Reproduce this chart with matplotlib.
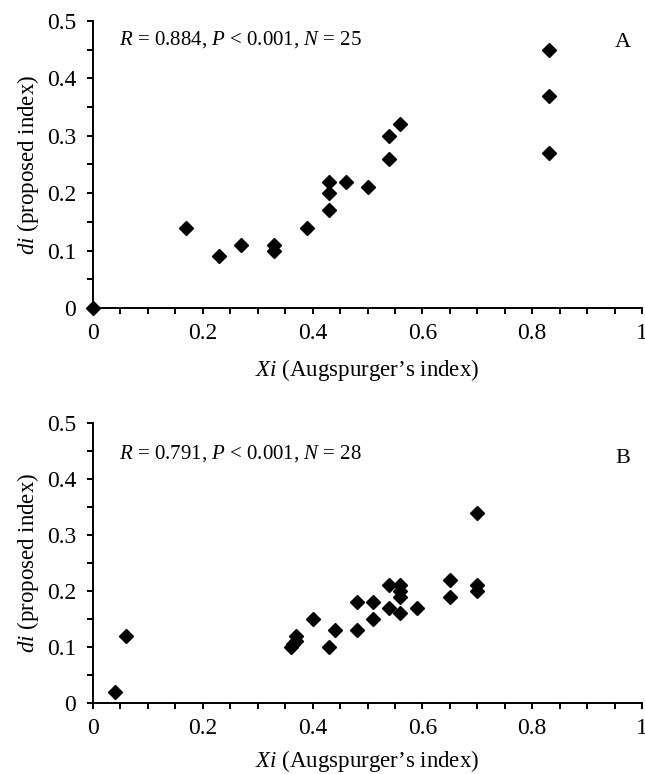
import matplotlib
matplotlib.use("Agg")
import matplotlib.pyplot as plt
from matplotlib.ticker import MultipleLocator

plt.rcParams["font.family"] = ["Liberation Serif", "DejaVu Serif"]
plt.rcParams["mathtext.fontset"] = "custom"
plt.rcParams["mathtext.rm"] = "Liberation Serif"
plt.rcParams["mathtext.it"] = "Liberation Serif:italic"

# panel A: Xi vs di
XI_A = [0.0, 0.17, 0.23, 0.27, 0.33, 0.33, 0.39, 0.43, 0.43, 0.43, 0.46, 0.50,
        0.54, 0.54, 0.56, 0.83, 0.83, 0.83]
DI_A = [0.0, 0.14, 0.09, 0.11, 0.11, 0.10, 0.14, 0.22, 0.20, 0.17, 0.22, 0.21,
        0.30, 0.26, 0.32, 0.45, 0.37, 0.27]
STATS_A = r"$R$ = 0.884, $P$ < 0.001, $N$ = 25"

# panel B
XI_B = [0.04, 0.06, 0.36, 0.365, 0.37, 0.37, 0.40, 0.43, 0.44, 0.48, 0.48, 0.51,
        0.51, 0.54, 0.54, 0.56, 0.56, 0.56, 0.56, 0.59, 0.65, 0.65, 0.70, 0.70,
        0.70]
DI_B = [0.02, 0.12, 0.10, 0.105, 0.11, 0.12, 0.15, 0.10, 0.13, 0.18, 0.13, 0.18,
        0.15, 0.21, 0.17, 0.21, 0.20, 0.19, 0.16, 0.17, 0.22, 0.19, 0.34, 0.21,
        0.20]
STATS_B = r"$R$ = 0.791, $P$ < 0.001, $N$ = 28"

TICKS_X = [0, 0.2, 0.4, 0.6, 0.8, 1.0]
TICKS_Y = [0, 0.1, 0.2, 0.3, 0.4, 0.5]
LABELS_X = ["0", "0.2", "0.4", "0.6", "0.8", "1"]
LABELS_Y = ["0", "0.1", "0.2", "0.3", "0.4", "0.5"]

fig = plt.figure(figsize=(6.45, 7.74), dpi=100)
ax_a = fig.add_axes([93 / 645, 1 - 308 / 774, 549 / 645, 287 / 774])
ax_b = fig.add_axes([93 / 645, 1 - 703 / 774, 549 / 645, 280 / 774])

panels = [
    (ax_a, XI_A, DI_A, STATS_A, "A", (0.047, 0.467), (0.965, 0.462), 9),
    (ax_b, XI_B, DI_B, STATS_B, "B", (0.047, 0.445), (0.965, 0.437), 6),
]

for ax, xs, ys, stats, tag, stats_pos, tag_pos, xpad in panels:
    ax.plot(xs, ys, "D", color="black", markersize=7.5, clip_on=False, zorder=3)
    ax.set_xlim(0, 1)
    ax.set_ylim(0, 0.5)
    ax.set_xticks(TICKS_X)
    ax.set_yticks(TICKS_Y)
    ax.set_xticklabels(LABELS_X)
    ax.set_yticklabels(LABELS_Y)
    ax.xaxis.set_minor_locator(MultipleLocator(0.05))
    ax.yaxis.set_minor_locator(MultipleLocator(0.05))
    for side in ("top", "right"):
        ax.spines[side].set_visible(False)
    for side in ("left", "bottom"):
        ax.spines[side].set_linewidth(1.4)
    ax.tick_params(which="both", direction="out", length=4, width=1.4,
                   labelsize=17)
    ax.tick_params(axis="x", pad=7)
    ax.tick_params(axis="y", pad=8)
    ax.set_xlabel(r"$Xi$ (Augspurger’s index)", fontsize=16.5, labelpad=xpad)
    ax.set_ylabel(r"$di$ (proposed index)", fontsize=16.5, labelpad=4)
    ax.text(*stats_pos, stats, fontsize=15, va="center", ha="left")
    ax.text(*tag_pos, tag, fontsize=16, va="center", ha="center")

fig.savefig("out.png", dpi=100)
